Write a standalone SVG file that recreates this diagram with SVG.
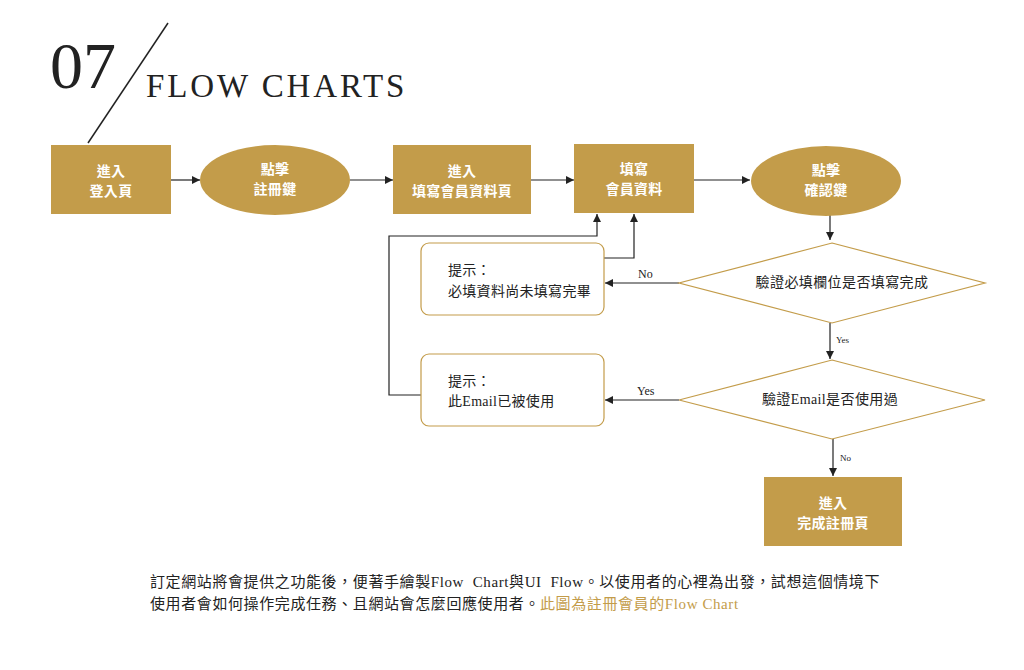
<svg xmlns="http://www.w3.org/2000/svg" width="1024" height="670" viewBox="0 0 1024 670">
<style>
.gold{fill:#c39c4a}
.nt{fill:#fff;font-family:"Liberation Sans","Noto Sans CJK TC",sans-serif;font-size:14px;font-weight:bold;text-anchor:middle;letter-spacing:0.3px}
.dt{fill:#222;font-family:"Liberation Serif","Noto Sans CJK TC",serif;font-size:14px;text-anchor:middle;letter-spacing:0.4px}
.rt{fill:#222;font-family:"Liberation Serif","Noto Sans CJK TC",serif;font-size:14px;letter-spacing:0.3px}
.lbl{fill:#222;font-family:"Liberation Serif",serif}
.c{fill:none;stroke:#222;stroke-width:1.2}
.outline{fill:#fff;stroke:#c39c4a;stroke-width:1.2}
.body{fill:#222;font-family:"Liberation Serif","Noto Sans CJK TC",serif;font-size:15px;letter-spacing:0.6px;white-space:pre}
</style>
<defs>
<marker id="ah" viewBox="0 0 10 10" refX="10" refY="5" markerWidth="10" markerHeight="8" markerUnits="userSpaceOnUse" orient="auto">
<path d="M0,0 L10,5 L0,10 Z" fill="#222"/>
</marker>
</defs>
<rect width="1024" height="670" fill="#fff"/>
<g id="title">
<text x="50" y="88" font-family="Liberation Serif,serif" font-size="66" fill="#222">07</text>
<line x1="88" y1="143" x2="168" y2="23" stroke="#222" stroke-width="1.5"/>
<text x="146" y="97" font-family="Liberation Serif,serif" font-size="33" fill="#222" letter-spacing="2.9">FLOW CHARTS</text>
</g>
<g id="connectors">
<line class="c" x1="171" y1="180" x2="200" y2="180" marker-end="url(#ah)"/>
<line class="c" x1="350" y1="180" x2="393" y2="180" marker-end="url(#ah)"/>
<line class="c" x1="531" y1="180" x2="574" y2="180" marker-end="url(#ah)"/>
<line class="c" x1="694" y1="180" x2="750" y2="180" marker-end="url(#ah)"/>
<line class="c" x1="830" y1="215" x2="830" y2="240" marker-end="url(#ah)"/>
<line class="c" x1="679" y1="283" x2="605" y2="283" marker-end="url(#ah)"/>
<line class="c" x1="830" y1="323" x2="830" y2="359" marker-end="url(#ah)"/>
<line class="c" x1="679" y1="400" x2="605" y2="400" marker-end="url(#ah)"/>
<line class="c" x1="833" y1="439" x2="833" y2="476" marker-end="url(#ah)"/>
<polyline class="c" points="604,258 634,258 634,214" marker-end="url(#ah)"/>
<polyline class="c" points="421,395 389,395 389,236 597,236 597,214" marker-end="url(#ah)"/>
<text class="lbl" x="638" y="278" font-size="12">No</text>
<text class="lbl" x="836" y="343" font-size="9">Yes</text>
<text class="lbl" x="637" y="395" font-size="12">Yes</text>
<text class="lbl" x="840" y="461" font-size="9">No</text>
</g>
<g id="n1">
<rect class="gold" x="51" y="145" width="120" height="69"/>
<text class="nt" x="111" y="176">進入</text>
<text class="nt" x="111" y="196">登入頁</text>
</g>
<g id="n2">
<ellipse class="gold" cx="275" cy="180" rx="75" ry="35"/>
<text class="nt" x="275" y="174">點擊</text>
<text class="nt" x="275" y="194">註冊鍵</text>
</g>
<g id="n3">
<rect class="gold" x="393" y="145" width="138" height="69"/>
<text class="nt" x="462" y="176">進入</text>
<text class="nt" x="462" y="196">填寫會員資料頁</text>
</g>
<g id="n4">
<rect class="gold" x="574" y="144" width="120" height="69"/>
<text class="nt" x="634" y="174">填寫</text>
<text class="nt" x="634" y="194">會員資料</text>
</g>
<g id="n5">
<ellipse class="gold" cx="826" cy="181" rx="75" ry="35"/>
<text class="nt" x="826" y="175">點擊</text>
<text class="nt" x="826" y="195">確認鍵</text>
</g>
<g id="d1">
<polygon class="outline" points="832,243 985,283 832,323 679,283"/>
<text class="dt" x="842" y="287">驗證必填欄位是否填寫完成</text>
</g>
<g id="r1">
<rect class="outline" x="421" y="243" width="183" height="72" rx="8"/>
<text class="rt" x="448" y="275">提示：</text>
<text class="rt" x="448" y="296">必填資料尚未填寫完畢</text>
</g>
<g id="d2">
<polygon class="outline" points="832,360 985,400 832,439 679,400"/>
<text class="dt" x="830" y="404">驗證Email是否使用過</text>
</g>
<g id="r2">
<rect class="outline" x="421" y="354" width="183" height="72" rx="8"/>
<text class="rt" x="448" y="386">提示：</text>
<text class="rt" x="448" y="406">此Email已被使用</text>
</g>
<g id="n6">
<rect class="gold" x="764" y="477" width="138" height="69"/>
<text class="nt" x="833" y="508">進入</text>
<text class="nt" x="833" y="528">完成註冊頁</text>
</g>
<g id="desc">
<text class="body" x="150" y="587">訂定網站將會提供之功能後，便著手繪製Flow  Chart與UI  Flow。以使用者的心裡為出發，試想這個情境下</text>
<text class="body" x="150" y="609">使用者會如何操作完成任務、且網站會怎麼回應使用者。<tspan fill="#c39c4a">此圖為註冊會員的Flow Chart</tspan></text>
</g>
</svg>
